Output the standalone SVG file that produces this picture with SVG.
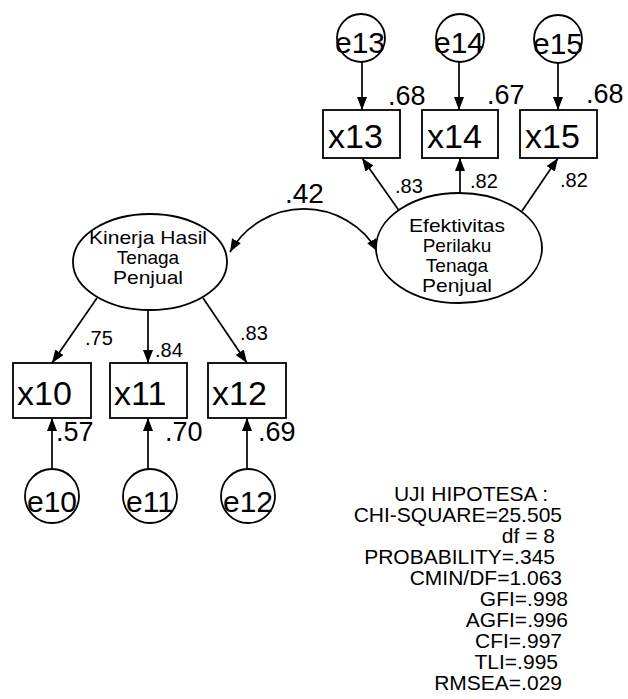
<svg xmlns="http://www.w3.org/2000/svg" width="628" height="699" viewBox="0 0 628 699">
<defs>
<marker id="ah" markerUnits="userSpaceOnUse" markerWidth="13" markerHeight="10" refX="13" refY="5" orient="auto-start-reverse"><path d="M0,0 L13,5 L0,10 z" fill="#000"/></marker>
</defs>
<style>
.sh{fill:#fff;stroke:#000;stroke-width:1.8}
.ln{fill:none;stroke:#000;stroke-width:1.7;marker-end:url(#ah)}
text{font-family:"Liberation Sans",Arial,sans-serif;fill:#000}
.box{font-size:34px}
.err{font-size:30px;text-anchor:middle}
.lat{font-size:19px;text-anchor:middle}
.big{font-size:27px}
.sm{font-size:20px}
.st{font-size:21px;text-anchor:end}
</style>
<rect width="628" height="699" fill="#fff"/>
<g id="connectors">
<path class="ln" d="M362,62 L362,110"/>
<path class="ln" d="M459,62 L459,110"/>
<path class="ln" d="M558,63 L558,110"/>
<path class="ln" d="M400,212 L362,158"/>
<path class="ln" d="M460,193 L460,158"/>
<path class="ln" d="M522,211 L558,158"/>
<path class="ln" d="M97,298 L52,363"/>
<path class="ln" d="M148,310 L148,363"/>
<path class="ln" d="M203,298 L247,363"/>
<path class="ln" d="M52,469 L52,418"/>
<path class="ln" d="M148,469 L148,418"/>
<path class="ln" d="M247,469 L247,418"/>
<path class="ln" style="marker-start:url(#ah)" d="M230,252 A85,85 0 0 1 378,252"/>
</g>
<g id="labels">
<text class="big" x="388" y="105">.68</text>
<text class="big" x="487" y="104">.67</text>
<text class="big" x="586" y="103">.68</text>
<text class="sm" x="395" y="193">.83</text>
<text class="sm" x="470" y="188">.82</text>
<text class="sm" x="560" y="187">.82</text>
<text x="285" y="203" font-size="28">.42</text>
<text class="sm" x="85" y="345">.75</text>
<text class="sm" x="155" y="357">.84</text>
<text class="sm" x="240" y="340">.83</text>
<text class="big" x="56" y="441">.57</text>
<text class="big" x="165" y="441">.70</text>
<text class="big" x="258" y="441">.69</text>
</g>
<g id="e13"><circle class="sh" cx="361" cy="38" r="24"/><text class="err" x="360" y="53">e13</text></g>
<g id="e14"><circle class="sh" cx="460" cy="38" r="24"/><text class="err" x="459" y="53">e14</text></g>
<g id="e15"><circle class="sh" cx="558" cy="39" r="24"/><text class="err" x="558" y="54">e15</text></g>
<g id="x13"><rect class="sh" x="323" y="110" width="77" height="48"/><text class="box" x="328" y="148">x13</text></g>
<g id="x14"><rect class="sh" x="422" y="110" width="76" height="48"/><text class="box" x="427" y="148">x14</text></g>
<g id="x15"><rect class="sh" x="520" y="110" width="77" height="48"/><text class="box" x="525" y="148">x15</text></g>
<g id="efektivitas"><ellipse class="sh" cx="459" cy="248" rx="83" ry="55"/>
<text class="lat" x="457" y="232" textLength="96" lengthAdjust="spacingAndGlyphs">Efektivitas</text><text class="lat" x="457" y="252">Perilaku</text><text class="lat" x="457" y="272">Tenaga</text><text class="lat" x="457" y="292" textLength="70" lengthAdjust="spacingAndGlyphs">Penjual</text></g>
<g id="kinerja"><ellipse class="sh" cx="150" cy="262" rx="77" ry="48"/>
<text class="lat" x="148" y="244" textLength="118" lengthAdjust="spacingAndGlyphs">Kinerja Hasil</text><text class="lat" x="148" y="264">Tenaga</text><text class="lat" x="148" y="284" textLength="70" lengthAdjust="spacingAndGlyphs">Penjual</text></g>
<g id="x10"><rect class="sh" x="13" y="363" width="78" height="55"/><text class="box" x="17" y="405">x10</text></g>
<g id="x11"><rect class="sh" x="110" y="363" width="77" height="55"/><text class="box" x="114" y="405">x11</text></g>
<g id="x12"><rect class="sh" x="208" y="363" width="78" height="55"/><text class="box" x="212" y="405">x12</text></g>
<g id="e10"><circle class="sh" cx="52" cy="496" r="27"/><text class="err" x="52" y="512">e10</text></g>
<g id="e11"><circle class="sh" cx="150" cy="496" r="27"/><text class="err" x="150" y="512">e11</text></g>
<g id="e12"><circle class="sh" cx="248" cy="496" r="27"/><text class="err" x="248" y="512">e12</text></g>
<g id="stats">
<text class="st" x="548" y="501">UJI HIPOTESA :</text>
<text class="st" x="562" y="522">CHI-SQUARE=25.505</text>
<text class="st" x="555" y="543">df = 8</text>
<text class="st" x="555" y="564">PROBABILITY=.345</text>
<text class="st" x="562" y="585">CMIN/DF=1.063</text>
<text class="st" x="568" y="606">GFI=.998</text>
<text class="st" x="568" y="627">AGFI=.996</text>
<text class="st" x="562" y="648">CFI=.997</text>
<text class="st" x="558" y="669">TLI=.995</text>
<text class="st" x="562" y="690">RMSEA=.029</text>
</g>
</svg>
